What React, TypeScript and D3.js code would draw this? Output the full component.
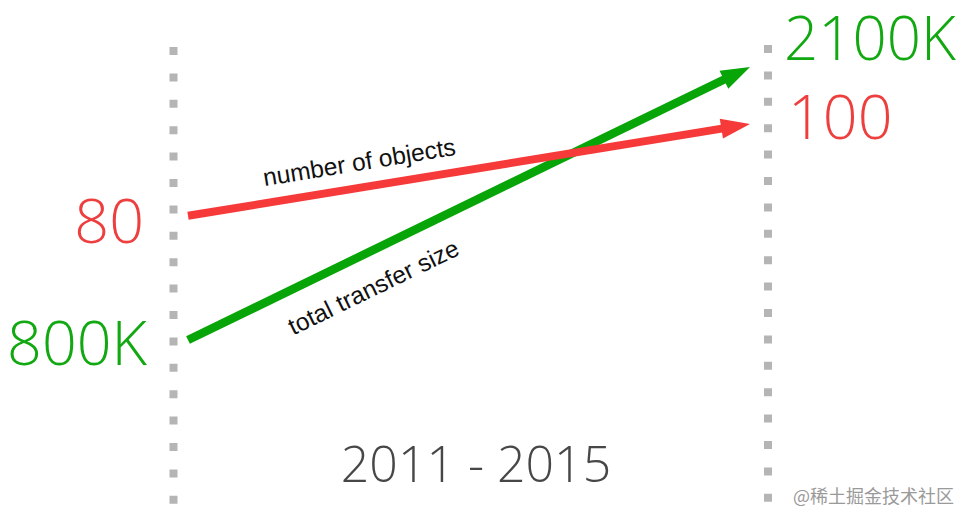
import * as d3 from "d3";

const W = 970;
const H = 525;

const YEARS = [2011, 2015];
const OBJECTS = [80, 100];
const SIZE_K = [800, 2100];
const PERIOD = "2011 - 2015";

const RED = "#f63a3a";
const RED_TXT = "#ee3f3f";
const GREEN = "#07a507";
const GREEN_TXT = "#12a812";
const DOT = "#b5b5b5";

const LABEL_FONT = "'Open Sans', 'Noto Sans', sans-serif";
const NOTE_FONT = "'Liberation Sans', Arial, sans-serif";

// x for the line ends, the dotted axes sit just outside
const x = d3.scaleLinear().domain(YEARS).range([188, 750]);
const yObj = d3.scaleLinear().domain([0, 100]).range([583, 124]);
const ySize = d3.scaleLinear().domain([0, 2100]).range([508, 67]);

const HEAD_L = 29;
const HEAD_W = 10;

function arrow(x0: number, y0: number, x1: number, y1: number) {
  const dx = x1 - x0;
  const dy = y1 - y0;
  const len = Math.hypot(dx, dy);
  const ux = dx / len;
  const uy = dy / len;
  const bx = x1 - ux * HEAD_L;
  const by = y1 - uy * HEAD_L;
  const head = [
    [x1, y1],
    [bx - uy * HEAD_W, by + ux * HEAD_W],
    [bx + uy * HEAD_W, by - ux * HEAD_W],
  ];
  return {
    line: { x1: x0, y1: y0, x2: bx + ux * 2, y2: by + uy * 2 },
    head: head.map((p) => p.join(",")).join(" "),
    angle: (Math.atan2(dy, dx) * 180) / Math.PI,
  };
}

function Series({
  vals,
  y,
  color,
  width,
  note,
  noteAt,
  noteOffset,
}: {
  vals: number[];
  y: d3.ScaleLinear<number, number>;
  color: string;
  width: number;
  note: string;
  noteAt: number;
  noteOffset: number;
}) {
  const x0 = x(YEARS[0]);
  const x1 = x(YEARS[1]);
  const a = arrow(x0, y(vals[0]), x1, y(vals[1]));
  // place the note along the line
  const nx = x0 + (x1 - x0) * noteAt;
  const ny = y(vals[0]) + (y(vals[1]) - y(vals[0])) * noteAt;
  return (
    <g>
      <line {...a.line} stroke={color} strokeWidth={width} />
      <polygon points={a.head} fill={color} />
      <g transform={`translate(${nx},${ny}) rotate(${a.angle}) translate(0,${noteOffset})`}>
        <text textAnchor="middle" fontFamily={NOTE_FONT} fontSize={24.5} fill="#111">
          {note}
        </text>
      </g>
    </g>
  );
}

export default function App() {
  const dotted = (cx: number, y0: number) => (
    <line x1={cx} x2={cx} y1={y0} y2={506} stroke={DOT} strokeWidth={8} strokeDasharray="8 18.4" />
  );
  return (
    <svg width={W} height={H} style={{ position: "absolute", left: 0, top: 0, background: "#fff" }}>
      {dotted(173.5, 47)}
      {dotted(768, 45)}

      <Series vals={SIZE_K} y={ySize} color={GREEN} width={8.5} note="total transfer size" noteAt={0.304} noteOffset={42} />
      <Series vals={OBJECTS} y={yObj} color={RED} width={8} note="number of objects" noteAt={0.312} noteOffset={-17} />

      <g fontFamily={LABEL_FONT} fontWeight={300} fontSize={61}>
        <text x={144} y={yObj(OBJECTS[0]) + 27} textAnchor="end" fill={RED_TXT}>{OBJECTS[0]}</text>
        <text x={147} y={ySize(SIZE_K[0]) + 25} textAnchor="end" fill={GREEN_TXT}>{`${SIZE_K[0]}K`}</text>
        <text x={784} y={ySize(SIZE_K[1]) - 7} fontSize={60} fill={GREEN_TXT}>{`${SIZE_K[1]}K`}</text>
        <text x={788} y={yObj(OBJECTS[1]) + 15} fill={RED_TXT}>{OBJECTS[1]}</text>
      </g>

      <text x={476} y={482} textAnchor="middle" fontFamily={LABEL_FONT} fontWeight={300} fontSize={50} fill="#474747">
        {PERIOD}
      </text>

      <text x={793} y={503} fontFamily="'Noto Sans CJK SC', sans-serif" fontSize={18} fill="#9a9a9a">
        @稀土掘金技术社区
      </text>
    </svg>
  );
}
